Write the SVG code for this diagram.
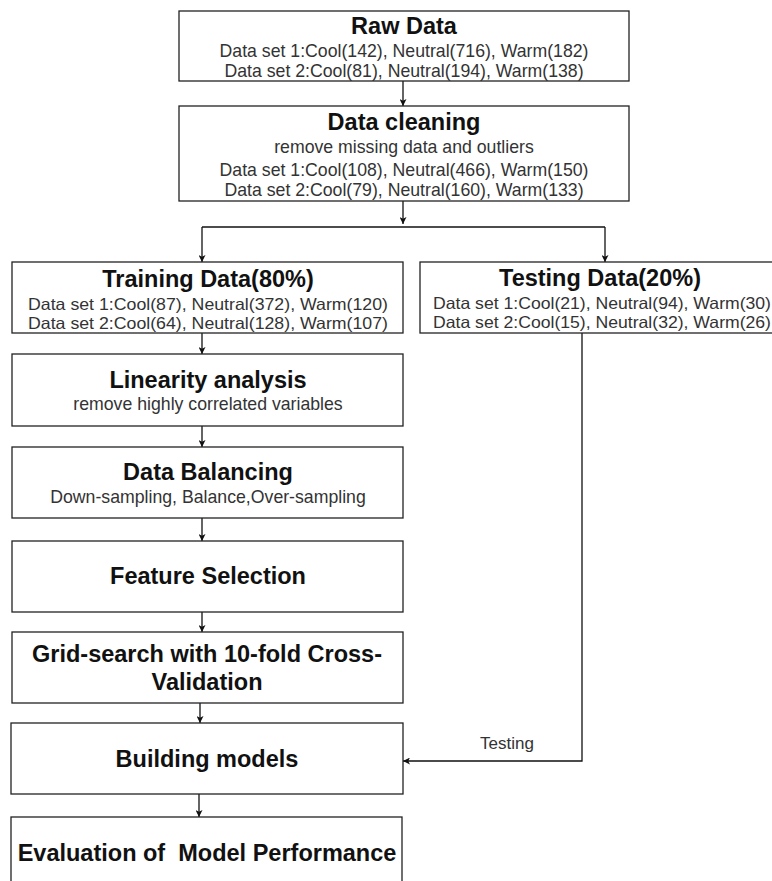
<svg xmlns="http://www.w3.org/2000/svg" width="772" height="881" viewBox="0 0 772 881">
<defs>
<marker id="arr" viewBox="0 0 10 10" refX="10" refY="5" markerWidth="7" markerHeight="7" markerUnits="userSpaceOnUse" orient="auto">
<path d="M0,0 L10,5 L0,10 L2.5,5 Z" fill="#111"/>
</marker>
<style>
.box{fill:#fff;stroke:#222;stroke-width:1.3}
.t{font-family:"Liberation Sans",Arial,sans-serif;font-weight:bold;font-size:23.5px;fill:#111;text-anchor:middle;white-space:pre}
.s{font-family:"Liberation Sans",Arial,sans-serif;font-size:17.7px;fill:#333;text-anchor:middle}
.s2{font-family:"Liberation Sans",Arial,sans-serif;font-size:17.7px;fill:#333;text-anchor:middle}
.l{font-family:"Liberation Sans",Arial,sans-serif;font-size:17px;fill:#333;text-anchor:middle}
.c{fill:none;stroke:#111;stroke-width:1.3}
.ca{fill:none;stroke:#111;stroke-width:1.3;marker-end:url(#arr)}
</style>
</defs>
<rect width="772" height="881" fill="#fff"/>
<g id="connectors">
<path class="ca" d="M403,81 V106"/>
<path class="ca" d="M403,201 V224"/>
<path class="c" d="M202,227 H605"/>
<path class="ca" d="M202,227 V262"/>
<path class="ca" d="M605,227 V262"/>
<path class="ca" d="M202,333 V354"/>
<path class="ca" d="M202,426 V447"/>
<path class="ca" d="M202,518 V541"/>
<path class="ca" d="M202,612 V632"/>
<path class="ca" d="M200,703 V723"/>
<path class="ca" d="M199,794 V817"/>
<path class="ca" d="M582,333 V761 H403"/>
<text class="l" x="507" y="749">Testing</text>
</g>
<g id="raw-data">
<rect class="box" x="179" y="11" width="450" height="70"/>
<text class="t" x="404" y="34">Raw Data</text>
<text class="s" x="404" y="57">Data set 1:Cool(142), Neutral(716), Warm(182)</text>
<text class="s" x="404" y="77">Data set 2:Cool(81), Neutral(194), Warm(138)</text>
</g>
<g id="data-cleaning">
<rect class="box" x="179" y="106" width="450" height="95"/>
<text class="t" x="404" y="130">Data cleaning</text>
<text class="s" x="404" y="153">remove missing data and outliers</text>
<text class="s" x="404" y="176">Data set 1:Cool(108), Neutral(466), Warm(150)</text>
<text class="s" x="404" y="196">Data set 2:Cool(79), Neutral(160), Warm(133)</text>
</g>
<g id="training-data">
<rect class="box" x="12" y="262" width="391" height="71"/>
<text class="t" x="208" y="287">Training Data(80%)</text>
<text class="s2" x="208" y="310" textLength="360" lengthAdjust="spacingAndGlyphs" style="font-size:16.5px">Data set 1:Cool(87), Neutral(372), Warm(120)</text>
<text class="s2" x="208" y="329" textLength="360" lengthAdjust="spacingAndGlyphs" style="font-size:16.5px">Data set 2:Cool(64), Neutral(128), Warm(107)</text>
</g>
<g id="testing-data">
<rect class="box" x="420" y="262" width="370" height="71"/>
<text class="t" x="600" y="286">Testing Data(20%)</text>
<text class="s2" x="602" y="309" textLength="338" lengthAdjust="spacingAndGlyphs" style="font-size:16.5px">Data set 1:Cool(21), Neutral(94), Warm(30)</text>
<text class="s2" x="602" y="328" textLength="338" lengthAdjust="spacingAndGlyphs" style="font-size:16.5px">Data set 2:Cool(15), Neutral(32), Warm(26)</text>
</g>
<g id="linearity-analysis">
<rect class="box" x="12" y="354" width="391" height="72"/>
<text class="t" x="208" y="388">Linearity analysis</text>
<text class="s" x="208" y="410">remove highly correlated variables</text>
</g>
<g id="data-balancing">
<rect class="box" x="12" y="447" width="391" height="71"/>
<text class="t" x="208" y="480">Data Balancing</text>
<text class="s" x="208" y="503">Down-sampling, Balance,Over-sampling</text>
</g>
<g id="feature-selection">
<rect class="box" x="12" y="541" width="391" height="71"/>
<text class="t" x="208" y="584">Feature Selection</text>
</g>
<g id="grid-search">
<rect class="box" x="12" y="632" width="391" height="71"/>
<text class="t" x="207" y="662">Grid-search with 10-fold Cross-</text>
<text class="t" x="207" y="690">Validation</text>
</g>
<g id="building-models">
<rect class="box" x="11" y="723" width="392" height="71"/>
<text class="t" x="207" y="767">Building models</text>
</g>
<g id="evaluation">
<rect class="box" x="11" y="817" width="391" height="90"/>
<text class="t" x="207" y="861" xml:space="preserve">Evaluation of  Model Performance</text>
</g>
</svg>
